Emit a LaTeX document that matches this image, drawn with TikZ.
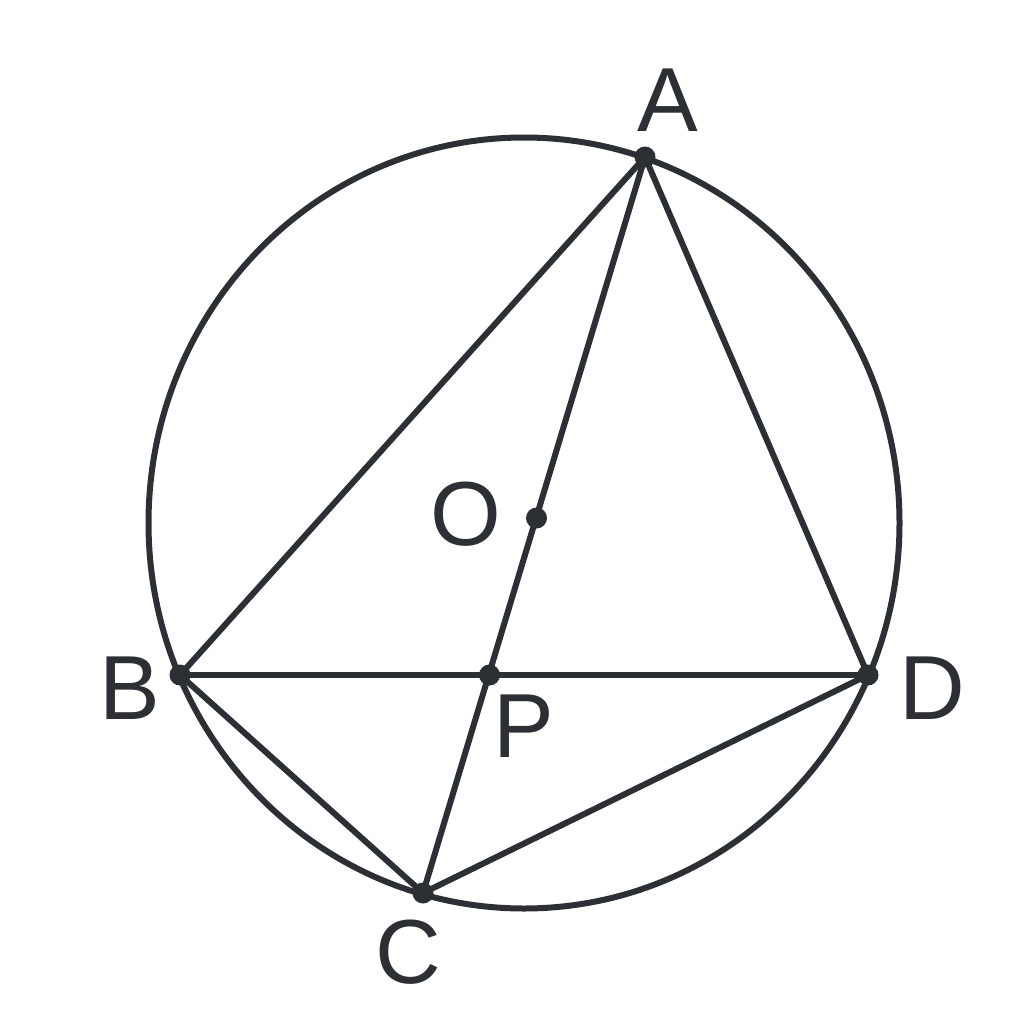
\documentclass[tikz,border=0pt]{standalone}
\usepackage{fontspec}
\setmainfont{Liberation Sans}
\definecolor{ink}{HTML}{2C3035}
\begin{document}
\begin{tikzpicture}[x=1pt,y=-1pt,
  line/.style={draw=ink,line width=6pt,line cap=round,line join=round},
  dot/.style={circle,fill=ink,inner sep=0pt,minimum size=21pt},
  lab/.style={text=ink,inner sep=0pt,font=\fontsize{91}{100}\selectfont}]
\useasboundingbox (0,0) rectangle (1024,1011);
\fill[white] (0,0) rectangle (1024,1011);
\coordinate (ctr) at (524,523);
\draw[line] (ctr) ellipse [x radius=375.5, y radius=385.5];
\coordinate (A) at (645,157);
\coordinate (B) at (180,675);
\coordinate (C) at (423,893);
\coordinate (D) at (868,675);
\coordinate (O) at (536.5,518);
\coordinate (P) at (489.5,675);
\draw[line] (A) -- (B);
\draw[line] (A) -- (D);
\draw[line] (A) -- (C);
\draw[line] (B) -- (D);
\draw[line] (B) -- (C);
\draw[line] (C) -- (D);
\foreach \p in {A,B,C,D,O,P} \node[dot] (dot\p) at (\p) {};
\node[lab] (lA) at (668,100) {A};
\node[lab] (lB) at (130,688) {B};
\node[lab] (lC) at (408,952) {C};
\node[lab] (lD) at (932,688) {D};
\node[lab] (lO) at (466,514) {O};
\node[lab] (lP) at (524,726) {P};
\end{tikzpicture}
\end{document}
